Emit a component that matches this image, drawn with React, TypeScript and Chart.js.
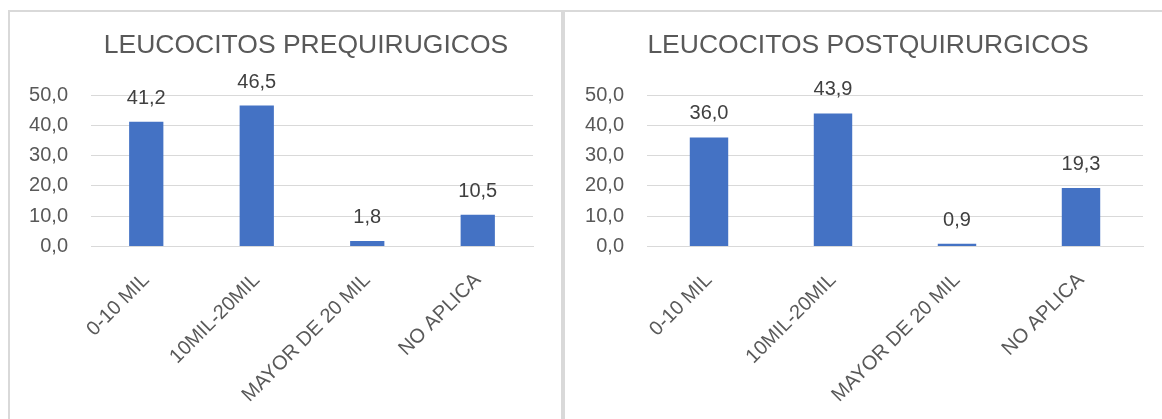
import React, { useEffect, useRef } from "react";
import { Chart, registerables } from "chart.js";

Chart.register(...registerables);

const categories = ["0-10 MIL", "10MIL-20MIL", "MAYOR DE 20 MIL", "NO APLICA"];
const preValues = [41.2, 46.5, 1.8, 10.5];
const postValues = [36.0, 43.9, 0.9, 19.3];
const yTicks = [0, 10, 20, 30, 40, 50];
const preTitle = "LEUCOCITOS PREQUIRUGICOS";
const postTitle = "LEUCOCITOS POSTQUIRURGICOS";

const FONT = "'Liberation Sans', Arial, sans-serif";
const fmt = (v: number) => v.toFixed(1).replace(".", ",");

const valueLabels = {
  id: "valueLabels",
  afterDatasetsDraw(chart: any) {
    const ctx = chart.ctx;
    const meta = chart.getDatasetMeta(0);
    const data = chart.data.datasets[0].data as number[];
    ctx.save();
    ctx.font = `20px ${FONT}`;
    ctx.fillStyle = "#404040";
    ctx.textAlign = "center";
    ctx.textBaseline = "alphabetic";
    meta.data.forEach((el: any, i: number) => {
      ctx.fillText(fmt(data[i]), el.x, el.y - 18);
    });
    ctx.restore();
  },
};

const boxTitle = {
  id: "boxTitle",
  afterDraw(chart: any, _args: any, opts: any) {
    if (!opts || !opts.text) return;
    const ctx = chart.ctx;
    ctx.save();
    ctx.font = `26.5px ${FONT}`;
    ctx.fillStyle = "#595959";
    ctx.textAlign = "center";
    ctx.textBaseline = "middle";
    ctx.fillText(opts.text, opts.x, opts.y);
    ctx.restore();
  },
};

type BoxProps = {
  title: string;
  values: number[];
  width: number;
  height: number;
  padLeft: number;
  padRight: number;
  yWidth: number;
  titleX: number;
};

function BarChartBox({ title, values, width, height, padLeft, padRight, yWidth, titleX }: BoxProps) {
  const ref = useRef<HTMLCanvasElement | null>(null);
  useEffect(() => {
    if (!ref.current) return;
    const chart = new Chart(ref.current, {
      type: "bar",
      data: {
        labels: categories,
        datasets: [
          {
            data: values,
            backgroundColor: "#4472c4",
            borderWidth: 0,
            barPercentage: 0.31,
            categoryPercentage: 1,
          },
        ],
      },
      options: {
        animation: false,
        responsive: false,
        maintainAspectRatio: false,
        layout: { padding: { left: padLeft, right: padRight, top: 83, bottom: 0 } },
        plugins: {
          legend: { display: false },
          tooltip: { enabled: false },
          title: { display: false },
          boxTitle: { text: title, x: titleX, y: 34 },
        } as any,
        scales: {
          x: {
            grid: { display: false, drawTicks: false },
            border: { display: true, color: "#d9d9d9", width: 1 },
            ticks: {
              autoSkip: false,
              maxRotation: 45,
              minRotation: 45,
              padding: 22,
              color: "#595959",
              font: { family: FONT, size: 20 },
            },
            afterFit: (scale: any) => {
              scale.height = 172.5;
            },
          },
          y: {
            min: 0,
            max: 50,
            grid: { color: "#d9d9d9", lineWidth: 1, drawTicks: false },
            border: { display: false },
            ticks: {
              padding: 23,
              color: "#595959",
              font: { family: FONT, size: 20 },
              callback: (v: any) => fmt(Number(v)),
            },
            afterBuildTicks: (scale: any) => {
              scale.ticks = yTicks.map((v) => ({ value: v }));
            },
            afterFit: (scale: any) => {
              scale.width = yWidth;
            },
          },
        },
      },
      plugins: [valueLabels, boxTitle],
    });
    return () => chart.destroy();
  }, [title, values, width, height, padLeft, padRight, yWidth, titleX]);
  return <canvas ref={ref} width={width} height={height} style={{ display: "block", width, height }} />;
}

export default function App() {
  return (
    <div
      style={{
        position: "fixed",
        left: 0,
        top: 0,
        width: 1162,
        height: 419,
        overflow: "hidden",
        background: "#ffffff",
      }}
    >
      <div
        style={{
          position: "absolute",
          left: 8,
          top: 10,
          width: 555,
          height: 440,
          border: "2px solid #d9d9d9",
          boxSizing: "border-box",
        }}
      />
      <div
        style={{
          position: "absolute",
          left: 563,
          top: 10,
          width: 640,
          height: 440,
          border: "2px solid #d9d9d9",
          boxSizing: "border-box",
        }}
      />
      <div style={{ position: "absolute", left: 10, top: 12 }}>
        <BarChartBox title={preTitle} values={preValues} width={551} height={407} padLeft={0} padRight={28} yWidth={81} titleX={296} />
      </div>
      <div style={{ position: "absolute", left: 565, top: 12 }}>
        <BarChartBox title={postTitle} values={postValues} width={597} height={407} padLeft={0} padRight={19} yWidth={82} titleX={303} />
      </div>
    </div>
  );
}
